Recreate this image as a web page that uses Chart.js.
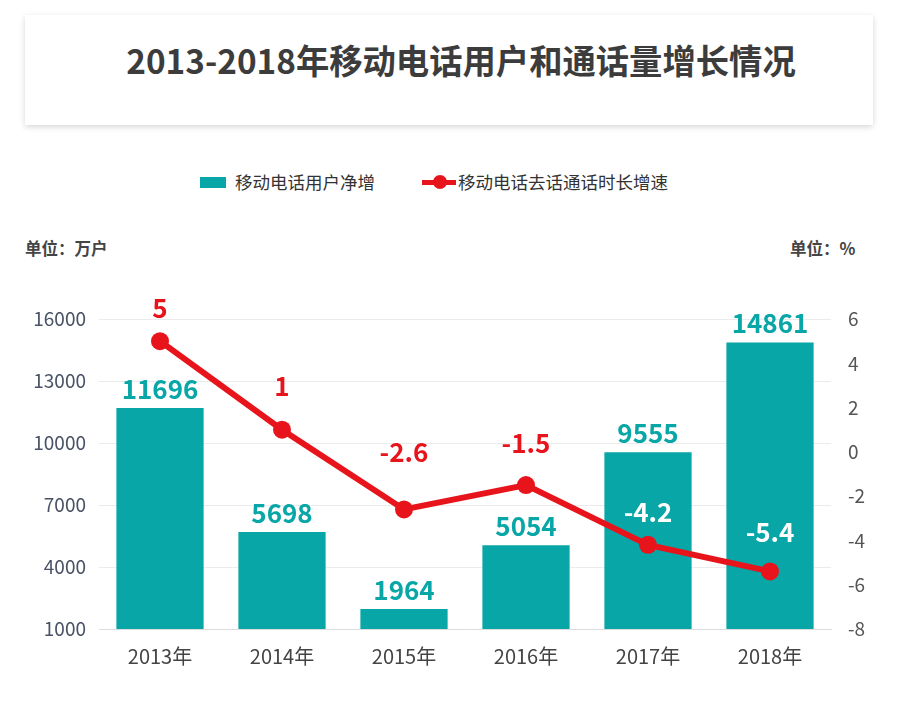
<!DOCTYPE html>
<html><head><meta charset="utf-8">
<script src="https://cdn.jsdelivr.net/npm/chart.js@4/dist/chart.umd.min.js"></script>
<style>
html,body{margin:0;padding:0;background:#fff;width:900px;height:709px;overflow:hidden;font-family:"Noto Sans CJK SC","Noto Sans",sans-serif;}
#card{position:absolute;left:25px;top:15px;width:848px;height:110px;background:#fff;box-shadow:0 2px 6px rgba(0,0,0,0.16);}
#title{position:absolute;left:0;top:38px;width:922px;text-align:center;font-size:34px;font-weight:bold;color:#3c3c3c;line-height:44px;white-space:nowrap;transform:scaleX(0.98);}
.leg{position:absolute;top:170px;font-size:17.5px;color:#333;line-height:24px;white-space:nowrap;}
.unit{position:absolute;top:236px;font-size:16.5px;font-weight:bold;color:#444;line-height:24px;white-space:nowrap;}
#c{position:absolute;left:0;top:0;}
</style></head>
<body>
<div id="card"></div>
<div id="title">2013-2018年移动电话用户和通话量增长情况</div>
<div class="leg" style="left:200px;"><span style="display:inline-block;width:26px;height:11px;background:#08a6a6;vertical-align:middle;margin-right:9px;position:relative;top:-2px;"></span><span id="l1"></span></div>
<div class="leg" style="left:422px;"><span style="display:inline-block;width:34px;height:14px;vertical-align:middle;margin-right:2px;position:relative;top:-2px;"><span style="position:absolute;left:0;top:5px;width:34px;height:5px;background:#e8141c;"></span><span style="position:absolute;left:11px;top:0;width:14px;height:14px;border-radius:50%;background:#e8141c;"></span></span><span id="l2"></span></div>
<div class="unit" style="left:25px;">单位：万户</div>
<div class="unit" style="left:790px;">单位：%</div>
<canvas id="c" width="900" height="709"></canvas>
<script>
const categories = ["2013年","2014年","2015年","2016年","2017年","2018年"];
const userNetIncrease = [11696, 5698, 1964, 5054, 9555, 14861];
const callGrowth = [5, 1, -2.6, -1.5, -4.2, -5.4];
const seriesNames = ["移动电话用户净增","移动电话去话通话时长增速"];
const leftTicks = [1000, 4000, 7000, 10000, 13000, 16000];
const rightTicks = [-8, -6, -4, -2, 0, 2, 4, 6];

document.getElementById('l1').textContent = seriesNames[0];
document.getElementById('l2').textContent = seriesNames[1];

const FONT = '"Noto Sans CJK SC","Noto Sans",sans-serif';
const TEAL = '#08a6a6', RED = '#e8141c';
const lineLabelOffsets = [33, 44, 57, 42, 33, 39];
const lineLabelColors = [RED, RED, RED, RED, '#ffffff', '#ffffff'];

const labelPlugin = {
  id: 'valueLabels',
  afterDatasetsDraw(chart) {
    const ctx = chart.ctx;
    ctx.save();
    ctx.textAlign = 'center';
    ctx.textBaseline = 'middle';
    ctx.font = 'bold 26px ' + FONT;
    const barMeta = chart.getDatasetMeta(1);
    barMeta.data.forEach((el, i) => {
      ctx.fillStyle = TEAL;
      ctx.fillText(String(userNetIncrease[i]), el.x, el.y - 19);
    });
    const lineMeta = chart.getDatasetMeta(0);
    lineMeta.data.forEach((el, i) => {
      ctx.fillStyle = lineLabelColors[i];
      ctx.fillText(String(callGrowth[i]), el.x, el.y - lineLabelOffsets[i]);
    });
    ctx.restore();
  }
};

new Chart(document.getElementById('c'), {
  data: {
    labels: categories,
    datasets: [
      { type: 'line', label: seriesNames[1], data: callGrowth, yAxisID: 'y1',
        borderColor: RED, backgroundColor: RED, borderWidth: 6, pointRadius: 9,
        pointBackgroundColor: RED, pointBorderWidth: 0, tension: 0, order: 0 },
      { type: 'bar', label: seriesNames[0], data: userNetIncrease, yAxisID: 'y',
        backgroundColor: TEAL, barPercentage: 0.715, categoryPercentage: 1, order: 1 }
    ]
  },
  options: {
    responsive: false, animation: false,
    layout: { padding: { top: 319, left: 0, right: 0, bottom: 0 } },
    plugins: { legend: { display: false }, tooltip: { enabled: false } },
    scales: {
      x: {
        grid: { display: false, drawTicks: false },
        border: { display: true, color: '#dcdcdc', width: 1 },
        ticks: { color: '#444', font: { family: FONT, size: 20 }, padding: 15 },
        afterFit(s) { s.height = 80; }
      },
      y: {
        position: 'left', min: 1000, max: 16000,
        afterBuildTicks(s) { s.ticks = leftTicks.map(v => ({ value: v })); },
        grid: { color: '#ebebeb', drawTicks: false },
        border: { display: false },
        ticks: { color: '#4a5366', font: { family: FONT, size: 19 }, padding: 13,
                 callback: v => String(v) },
        afterFit(s) { s.width = 99; }
      },
      y1: {
        position: 'right', min: -8, max: 6,
        afterBuildTicks(s) { s.ticks = rightTicks.map(v => ({ value: v })); },
        grid: { display: false, drawTicks: false },
        border: { display: false },
        ticks: { color: '#555', font: { family: FONT, size: 19 }, padding: 17,
                 callback: v => String(v) },
        afterFit(s) { s.width = 69; }
      }
    }
  },
  plugins: [labelPlugin]
});
</script>
</body></html>
